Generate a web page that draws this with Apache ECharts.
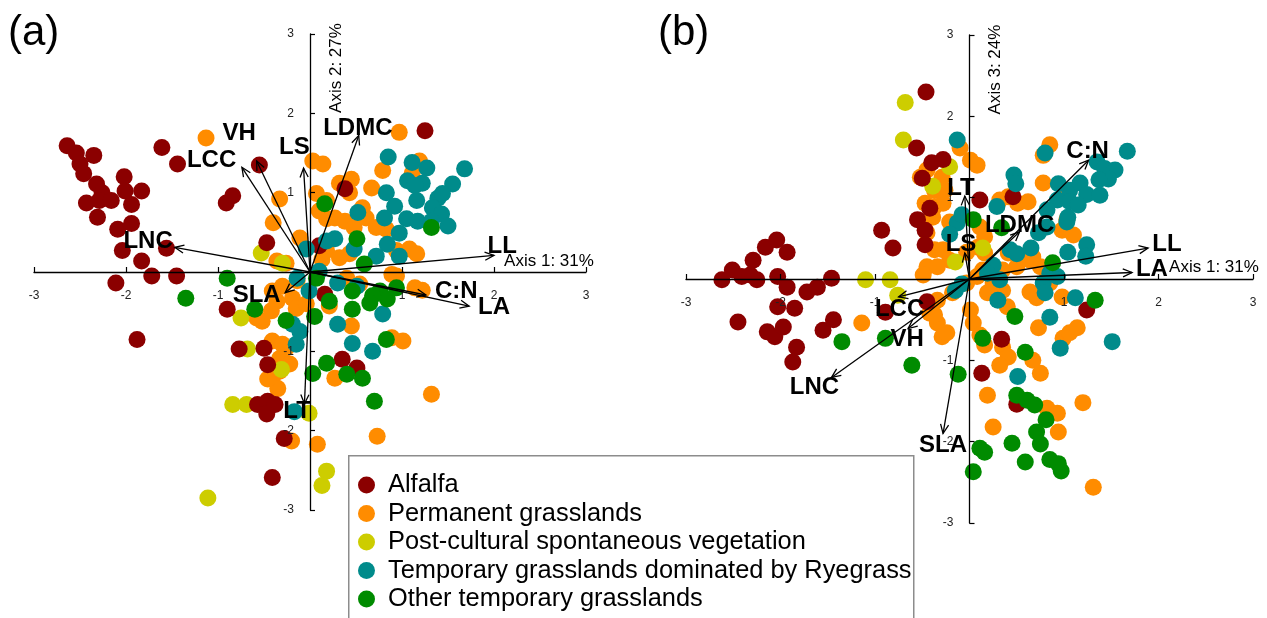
<!DOCTYPE html>
<html>
<head>
<meta charset="utf-8">
<script src="https://cdn.jsdelivr.net/npm/echarts@6/dist/echarts.min.js"></script>
<style>html,body{margin:0;padding:0;background:#fff;}#chart{width:1267px;height:618px;}</style>
</head>
<body>
<div id="chart"></div>
<script>
// ---------- DATA ----------
const groupNames = ['Alfalfa', 'Permanent grasslands', 'Post-cultural spontaneous vegetation',
  'Temporary grasslands dominated by Ryegrass', 'Other temporary grasslands'];
const groupColors = ['#8B0000', '#FF8C00', '#CDCD00', '#008B8B', '#008B00'];
const tickValues = [-3, -2, -1, 0, 1, 2, 3];
const traits = ['LNC', 'LCC', 'VH', 'LS', 'LDMC', 'LL', 'C:N', 'LA', 'SLA', 'LT'];

// Panel (a): Axis 1 vs Axis 2
const alfalfaA = [[-2.64,1.59],[-2.54,1.50],[-2.35,1.47],[-2.50,1.36],[-2.46,1.24],[-2.32,1.11],[-2.26,1.00],[-2.02,1.20],[-1.83,1.02],[-2.43,0.87],[-2.29,0.90],[-2.16,0.90],[-1.94,0.85],[-2.01,1.02],[-2.31,0.69],[-2.09,0.54],[-1.94,0.61],[-2.04,0.27],[-1.83,0.14],[-1.72,-0.05],[-1.45,-0.05],[-2.11,-0.14],[-1.56,0.30],[-1.61,1.57],[-1.44,1.36],[-0.91,0.87],[-0.84,0.96],[-0.55,1.35],[-0.47,0.37],[1.25,1.78],[0.38,1.05],[0.10,0.33],[0.16,-0.28],[-0.50,-0.96],[-0.46,-1.17],[0.35,-1.10],[0.51,-1.21],[-0.57,-1.67],[-0.46,-1.63],[-0.38,-1.67],[-0.47,-1.79],[-0.28,-2.10],[-0.77,-0.97],[-1.88,-0.85],[-0.90,-0.47],[-0.41,-2.59]];
const permanentA = [[-1.13,1.69],[0.97,1.76],[0.03,1.40],[0.14,1.36],[0.79,1.28],[0.32,1.12],[0.45,1.17],[0.67,1.06],[0.07,0.99],[0.18,0.90],[-0.33,0.92],[0.43,1.00],[1.19,1.40],[1.11,1.24],[-0.40,0.62],[0.10,0.77],[0.18,0.67],[0.27,0.68],[0.57,0.81],[0.38,0.64],[0.48,0.56],[0.61,0.68],[0.72,0.56],[0.83,0.54],[0.94,0.27],[1.08,0.29],[1.16,0.23],[-0.11,0.43],[-0.36,0.14],[-0.26,0.11],[0.13,0.16],[0.18,0.27],[0.32,0.18],[0.43,0.23],[0.89,-0.03],[0.94,-0.05],[1.14,-0.20],[1.22,-0.23],[0.40,-0.08],[0.54,-0.15],[-0.14,-0.11],[-0.19,-0.33],[-0.15,-0.46],[-0.04,-0.40],[-0.41,-0.24],[-0.52,-0.62],[-0.42,-0.49],[0.21,-0.43],[0.45,-0.68],[-0.41,-0.87],[-0.30,-0.91],[-0.33,-1.09],[-0.22,-1.16],[-0.33,-1.25],[-0.41,-1.34],[-0.35,-1.47],[0.27,-1.34],[1.01,-0.87],[0.89,-0.83],[1.32,-1.54],[0.73,-2.07],[0.08,-2.17],[-0.20,-2.13],[-0.58,-0.58],[-0.26,-0.96],[-0.46,-1.35],[-0.36,-0.37],[-0.30,-0.18]];
const postA = [[-0.53,0.24],[-0.30,0.11],[-0.75,-0.58],[-0.68,-0.97],[-0.31,-1.23],[-0.84,-1.67],[-0.69,-1.67],[-0.01,-1.78],[-1.11,-2.85],[0.18,-2.51],[0.13,-2.69]];
const ryegrassA = [[0.85,1.45],[1.11,1.38],[1.27,1.31],[1.68,1.30],[1.06,1.15],[1.22,1.12],[1.55,1.11],[0.83,1.00],[1.39,0.93],[1.44,0.99],[1.16,0.90],[0.92,0.83],[0.81,0.68],[1.05,0.67],[1.17,0.64],[1.33,0.81],[1.43,0.73],[1.50,0.58],[1.32,0.64],[0.97,0.49],[0.84,0.35],[0.97,0.20],[0.72,0.20],[0.48,0.29],[0.27,0.42],[-0.04,0.29],[0.52,0.75],[0.18,0.39],[-0.01,-0.24],[-0.14,-0.08],[0.30,-0.14],[0.51,-0.18],[0.79,-0.53],[0.30,-0.66],[0.46,-0.90],[0.68,-1.00],[-0.11,-0.75],[-0.15,-0.91],[-0.19,-0.66],[-0.17,-1.76],[1.14,1.09],[0.10,0.01]];
const otherA = [[-0.90,-0.08],[-1.35,-0.33],[-0.60,-0.47],[-0.26,-0.61],[0.03,-1.28],[0.16,0.86],[0.51,0.42],[0.59,0.10],[0.07,-0.08],[0.76,-0.24],[0.94,-0.20],[0.46,-0.24],[0.84,-0.34],[0.68,-0.30],[0.46,-0.47],[0.65,-0.39],[0.05,-0.56],[0.18,-1.15],[0.40,-1.29],[0.57,-1.34],[0.83,-0.85],[0.70,-1.63],[1.32,0.56],[0.21,-0.37]];
const arrowsA = [[-1.47,0.31],[-0.74,1.32],[-0.58,1.40],[-0.07,1.31],[0.53,1.72],[2.00,0.21],[1.26,-0.29],[1.73,-0.43],[-0.27,-0.26],[-0.06,-1.66]];
const labelsA = [[-1.76,0.38],[-1.07,1.41],[-0.77,1.75],[-0.17,1.57],[0.52,1.81],[2.09,0.32],[1.59,-0.24],[2.00,-0.44],[-0.58,-0.30],[-0.14,-1.76]];

// Panel (b): Axis 1 vs Axis 3
const alfalfaB = [[-0.46,2.30],[-0.56,1.61],[-0.40,1.43],[-0.28,1.47],[-0.50,1.24],[-0.42,0.87],[-0.55,0.73],[-0.47,0.60],[-0.93,0.60],[-0.81,0.38],[-0.47,0.42],[-2.16,0.39],[-2.04,0.48],[-1.93,0.33],[-2.29,0.23],[-2.51,0.11],[-2.62,-0.01],[-2.41,0.03],[-2.32,0.05],[-2.25,-0.01],[-2.03,0.03],[-1.93,-0.10],[-1.72,-0.16],[-1.61,-0.10],[-1.46,0.01],[-2.45,-0.53],[-2.03,-0.34],[-1.85,-0.36],[-2.14,-0.65],[-2.06,-0.71],[-1.97,-0.59],[-1.55,-0.63],[-1.44,-0.50],[-1.83,-0.84],[-1.87,-1.02],[-0.89,-0.41],[-0.45,-0.28],[0.11,0.97],[0.46,1.01],[1.24,-0.38],[0.34,-0.74],[0.13,-1.16],[0.50,-1.54]];
const permanentB = [[-0.10,1.61],[0.01,1.46],[0.08,1.40],[-0.45,1.34],[-0.52,1.25],[-0.29,1.25],[-0.37,1.09],[-0.26,1.09],[-0.47,0.93],[-0.37,0.89],[-0.28,0.93],[-0.39,0.76],[-0.21,0.70],[-0.45,0.57],[-0.37,0.36],[-0.28,0.36],[-0.21,0.23],[-0.45,0.15],[-0.34,0.15],[0.11,0.64],[0.16,0.52],[0.09,0.39],[0.16,0.32],[0.14,0.11],[0.08,0.03],[0.41,1.01],[0.51,0.93],[0.62,0.95],[0.85,1.65],[0.78,1.52],[0.78,1.18],[1.03,0.73],[0.98,0.60],[1.10,0.54],[0.67,0.27],[0.50,0.15],[0.35,0.11],[0.32,0.97],[-0.03,0.33],[0.41,0.32],[0.64,0.23],[0.75,0.15],[-0.03,-0.05],[0.85,-0.05],[0.19,-0.17],[0.25,-0.05],[0.35,-0.14],[0.40,-0.34],[0.64,-0.16],[0.71,-0.23],[0.98,-0.22],[0.01,-0.38],[0.04,-0.54],[0.11,-0.69],[0.16,-0.81],[0.35,-0.84],[0.41,-0.96],[0.32,-1.06],[0.67,-1.00],[0.75,-1.16],[0.73,-0.60],[0.99,-0.73],[1.06,-0.66],[1.14,-0.60],[0.19,-1.43],[0.25,-1.82],[0.82,-1.59],[0.93,-1.65],[0.94,-1.88],[1.20,-1.52],[1.31,-2.56],[-0.42,-0.42],[-0.34,-0.54],[-0.29,-0.71],[-0.24,-0.66],[-0.34,-0.26],[-0.18,-0.17],[-1.14,-0.54],[-0.37,-0.44],[-0.49,0.05],[1.01,1.00]];
const postB = [[-0.68,2.17],[-0.70,1.71],[-0.21,1.38],[-0.39,1.14],[0.14,0.38],[-1.10,-0.01],[-0.84,-0.01],[-0.76,-0.20],[-0.15,0.21]];
const ryegrassB = [[-0.13,1.71],[0.80,1.55],[1.67,1.57],[1.35,1.44],[1.43,1.36],[1.54,1.34],[1.47,1.23],[1.37,1.22],[0.47,1.28],[0.49,1.17],[1.06,1.09],[1.17,1.18],[1.24,1.04],[0.94,1.17],[0.93,0.97],[1.06,0.95],[1.15,0.91],[1.38,1.03],[0.82,0.85],[1.04,0.76],[1.03,0.70],[0.82,0.64],[0.73,0.57],[0.29,0.89],[-0.13,0.69],[-0.08,0.79],[0.43,0.36],[0.50,0.31],[0.65,0.38],[1.24,0.42],[1.23,0.28],[1.04,0.33],[0.93,0.03],[0.78,-0.05],[0.32,-0.01],[0.25,0.17],[0.19,0.07],[0.85,0.07],[0.80,-0.17],[0.30,-0.26],[1.12,-0.23],[0.85,-0.47],[1.51,-0.77],[0.96,-0.85],[0.51,-1.20],[-0.15,-0.14],[-0.08,-0.06],[-0.21,0.55]];
const otherB = [[0.88,0.20],[0.04,0.73],[0.34,0.63],[1.33,-0.26],[0.48,-0.46],[0.14,-0.73],[0.59,-0.90],[-0.12,-1.17],[-0.61,-1.06],[0.50,-1.43],[0.61,-1.49],[0.69,-1.55],[0.81,-1.73],[0.71,-1.88],[0.75,-2.03],[0.45,-2.02],[0.11,-2.08],[0.16,-2.13],[0.04,-2.37],[0.59,-2.25],[0.85,-2.22],[0.94,-2.27],[0.97,-2.36],[-0.89,-0.73],[-1.35,-0.77]];
const arrowsB = [[-1.46,-1.21],[-0.75,-0.22],[-0.65,-0.61],[-0.05,0.32],[0.53,0.58],[1.89,0.38],[1.26,1.46],[1.72,0.08],[-0.28,-1.90],[-0.05,1.02]];
const labelsB = [[-1.64,-1.33],[-0.74,-0.37],[-0.66,-0.74],[-0.09,0.43],[0.53,0.66],[2.09,0.42],[1.25,1.57],[1.93,0.12],[-0.28,-2.04],[-0.09,1.11]];

// ---------- CHART ----------
const FONT = '"Liberation Sans", Arial, sans-serif';
const chart = echarts.init(document.getElementById('chart'), null, {renderer: 'canvas'});

const grids = [
  {left: 34, top: 34, width: 552, height: 476},
  {left: 686, top: 35, width: 567, height: 488}
];
const tickFmt = v => v === 0 ? '' : String(v);
function xAx(g) {
  // axis drawn through the origin (middle of the grid)
  return {type: 'value', gridIndex: g, min: tickValues[0], max: tickValues[tickValues.length - 1], interval: 1, z: 5,
    position: 'bottom', offset: -grids[g].height / 2,
    axisLine: {onZero: false, lineStyle: {color: '#000', width: 1.3}},
    axisTick: {inside: true, length: 5, lineStyle: {color: '#000', width: 1.2}},
    axisLabel: {margin: 18, fontSize: 12, color: '#222', fontFamily: FONT, formatter: tickFmt},
    splitLine: {show: false}};
}
function yAx(g) {
  return {type: 'value', gridIndex: g, min: tickValues[0], max: tickValues[tickValues.length - 1], interval: 1, z: 5,
    position: 'left', offset: -grids[g].width / 2,
    axisLine: {onZero: false, lineStyle: {color: '#000', width: 1.3}},
    axisTick: {inside: true, length: 5, lineStyle: {color: '#000', width: 1.2}},
    axisLabel: {margin: 16, fontSize: 12, color: '#222', fontFamily: FONT, padding: [8, 0, 0, 0], formatter: tickFmt},
    splitLine: {show: false}};
}

const pointSets = [[alfalfaA, permanentA, postA, ryegrassA, otherA], [alfalfaB, permanentB, postB, ryegrassB, otherB]];
const drawOrder = [1, 2, 0, 3, 4];
const series = [];
[0, 1].forEach(g => {
  drawOrder.forEach(k => {
    series.push({type: 'scatter', name: groupNames[k], xAxisIndex: g, yAxisIndex: g,
      data: pointSets[g][k], symbol: 'circle', symbolSize: 17,
      itemStyle: {color: groupColors[k], opacity: 1}, z: 2});
  });
});

function arrowSeries(g, tips) {
  return {type: 'custom', xAxisIndex: g, yAxisIndex: g, z: 10, clip: false, silent: true,
    data: tips,
    renderItem: function (params, api) {
      const o = api.coord([0, 0]);
      const t = api.coord([api.value(0), api.value(1)]);
      const ang = Math.atan2(t[1] - o[1], t[0] - o[0]);
      const hl = 10, ha = Math.PI / 7.5;
      const p1 = [t[0] - hl * Math.cos(ang - ha), t[1] - hl * Math.sin(ang - ha)];
      const p2 = [t[0] - hl * Math.cos(ang + ha), t[1] - hl * Math.sin(ang + ha)];
      return {type: 'group', children: [
        {type: 'line', shape: {x1: o[0], y1: o[1], x2: t[0], y2: t[1]}, style: {stroke: '#000', lineWidth: 1.3}},
        {type: 'polyline', shape: {points: [p1, t, p2]}, style: {stroke: '#000', lineWidth: 1.3, fill: null}}
      ]};
    }};
}
function labelSeries(g, pos) {
  return {type: 'custom', xAxisIndex: g, yAxisIndex: g, z: 11, clip: false, silent: true,
    data: pos,
    renderItem: function (params, api) {
      const p = api.coord([api.value(0), api.value(1)]);
      return {type: 'text', x: p[0], y: p[1], style: {text: traits[params.dataIndex],
        font: 'bold 24px ' + FONT, fill: '#000', align: 'center', verticalAlign: 'middle'}};
    }};
}
series.push(arrowSeries(0, arrowsA), labelSeries(0, labelsA), arrowSeries(1, arrowsB), labelSeries(1, labelsB));

// one legend per row inside a common framed box
const legendRowTop = 472.5, legendRowStep = 28.5;
const legends = groupNames.map((n, i) => ({
  data: [n], orient: 'vertical', left: 358, top: legendRowTop + i * legendRowStep,
  icon: 'circle', itemWidth: 17, itemHeight: 17, padding: 0,
  textStyle: {fontSize: 25.4, color: '#000', fontFamily: FONT, padding: [0, 0, 0, 8]},
  selectedMode: false, z: 21
}));

const option = {
  animation: false,
  backgroundColor: '#fff',
  grid: grids,
  xAxis: [xAx(0), xAx(1)],
  yAxis: [yAx(0), yAx(1)],
  legend: legends,
  graphic: [
    {type: 'rect', left: 348, top: 455, shape: {width: 565, height: 200}, style: {fill: '#fff', stroke: '#8c8c8c', lineWidth: 1.5}, z: 20},
    {type: 'text', left: 8, top: 12, style: {text: '(a)', font: '42px ' + FONT, fill: '#000'}},
    {type: 'text', left: 658, top: 12, style: {text: '(b)', font: '42px ' + FONT, fill: '#000'}},
    {type: 'text', x: 549, y: 261, style: {text: 'Axis 1: 31%', font: '17px ' + FONT, fill: '#000', align: 'center', verticalAlign: 'middle'}, z: 6},
    {type: 'text', x: 1214, y: 267, style: {text: 'Axis 1: 31%', font: '17px ' + FONT, fill: '#000', align: 'center', verticalAlign: 'middle'}, z: 6},
    {type: 'text', x: 336, y: 68, rotation: Math.PI / 2, style: {text: 'Axis 2: 27%', font: '17px ' + FONT, fill: '#000', align: 'center', verticalAlign: 'middle'}, z: 6},
    {type: 'text', x: 995.5, y: 69.5, rotation: Math.PI / 2, style: {text: 'Axis 3: 24%', font: '17px ' + FONT, fill: '#000', align: 'center', verticalAlign: 'middle'}, z: 6}
  ],
  series: series
};
chart.setOption(option);
</script>
</body>
</html>
